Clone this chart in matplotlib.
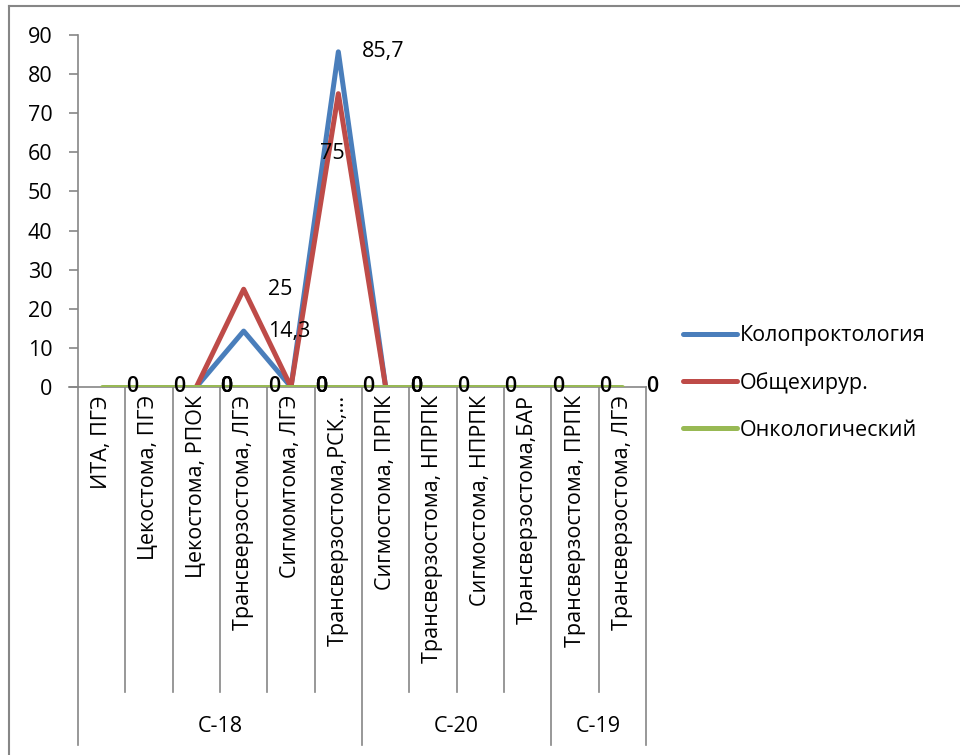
import numpy as np
import matplotlib
matplotlib.use('Agg')
import matplotlib.pyplot as plt
from matplotlib.lines import Line2D
from matplotlib.transforms import blended_transform_factory

plt.rcParams['font.family'] = ['Open Sans', 'DejaVu Sans']

categories = ['ИТА, ПГЭ', 'Цекостома, ПГЭ', 'Цекостома, РПОК', 'Трансверзостома, ЛГЭ',
              'Сигмомтома, ЛГЭ', 'Трансверзостома,РСК,…', 'Сигмостома, ПРПК',
              'Трансверзостома, НПРПК', 'Сигмостома, НПРПК', 'Трансверзостома,БАР',
              'Трансверзостома, ПРПК', 'Трансверзостома, ЛГЭ']
groups = ['С-18', 'С-20', 'С-19']
group_sizes = [6, 4, 2]

nan = np.nan
koloprokt = [nan, nan, 0, 14.3, 0, 85.7, 0, nan, nan, nan, nan, nan]
obshchehir = [nan, nan, 0, 25, 0, 75, 0, nan, nan, nan, nan, nan]
onkolog = [0, 0, 0, 0, 0, 0, 0, 0, 0, 0, 0, 0]

series = [('Колопроктология', koloprokt, '#4A7EBB'),
          ('Общехирур.', obshchehir, '#BE4B48'),
          ('Онкологический', onkolog, '#98B954')]

W, H = 960, 755
fig = plt.figure(figsize=(W / 100, H / 100), dpi=100)
ax = fig.add_axes([78 / W, (H - 387) / H, (646 - 78) / W, (387 - 35) / H])

x = np.arange(1, len(categories) + 1)
fs = 15.5
grey = '#868686'

for name, vals, col in series:
    ax.plot(x, vals, color=col, lw=3.6, label=name, solid_capstyle='round', zorder=3)

# data labels (zeros of all series sit on top of each other, like in Excel)
for name, vals, col in reversed(series):
    for xi, v in zip(x, vals):
        if np.isnan(v):
            continue
        lbl = ('%g' % v).replace('.', ',')
        if name == 'Общехирур.' and v == 75:
            ax.annotate(lbl, (xi, v), xytext=(-6, -60), textcoords='offset pixels',
                        ha='center', va='center', fontsize=fs, zorder=5)
        else:
            ax.annotate(lbl, (xi, v), xytext=(24, 0), textcoords='offset pixels',
                        ha='left', va='center', fontsize=fs, zorder=5,
                        fontweight='semibold' if v == 0 else 'normal')

ax.set_xlim(0.5, len(categories) + 0.5)
ax.set_ylim(0, 90)
ax.set_yticks(np.arange(0, 91, 10))
ax.tick_params(axis='y', direction='out', length=6.5, width=1.2, color=grey,
               labelsize=fs, pad=12)
ax.set_xticks([])
for s in ['top', 'right']:
    ax.spines[s].set_visible(False)
for s in ['left', 'bottom']:
    ax.spines[s].set_color(grey)
    ax.spines[s].set_linewidth(1.2)

# category labels and separators
tr = blended_transform_factory(ax.transData, ax.transAxes)
ph = 387 - 35
inner_bot = (387 - 692) / ph
outer_bot = (387 - 745) / ph
for xi, c in zip(x, categories):
    ax.text(xi, -8 / ph, c, rotation=90, ha='center', va='top', fontsize=fs,
            transform=tr)
bounds = np.cumsum([0] + group_sizes) + 0.5
for b in np.arange(0.5, len(categories) + 1):
    bot = outer_bot if b in bounds else inner_bot
    ax.add_line(Line2D([b, b], [0, bot], color=grey, lw=1.2, transform=tr,
                       clip_on=False))
ax.add_line(Line2D([0.5 - 9 / 47.3, 0.5], [0, 0], color=grey, lw=1.2,
                   transform=tr, clip_on=False))
for g, lo, hi in zip(groups, bounds[:-1], bounds[1:]):
    ax.text((lo + hi) / 2, (387 - 727) / ph, g, ha='center', va='center',
            fontsize=fs, transform=tr)

# chart frame
fig.add_artist(Line2D([9 / W, 1], [1 - 6 / H, 1 - 6 / H], color=grey, lw=1.5,
                      transform=fig.transFigure))
fig.add_artist(Line2D([9 / W, 9 / W], [0, 1 - 6 / H], color=grey, lw=1.5,
                      transform=fig.transFigure))

ax.legend(loc='center left', bbox_to_anchor=(683 / W, (H - 383) / H),
          bbox_transform=fig.transFigure, frameon=False, fontsize=fs,
          handlelength=2.5, handletextpad=0.15, labelspacing=1.2,
          borderpad=0, borderaxespad=0)

fig.savefig('out.png', dpi=100)
